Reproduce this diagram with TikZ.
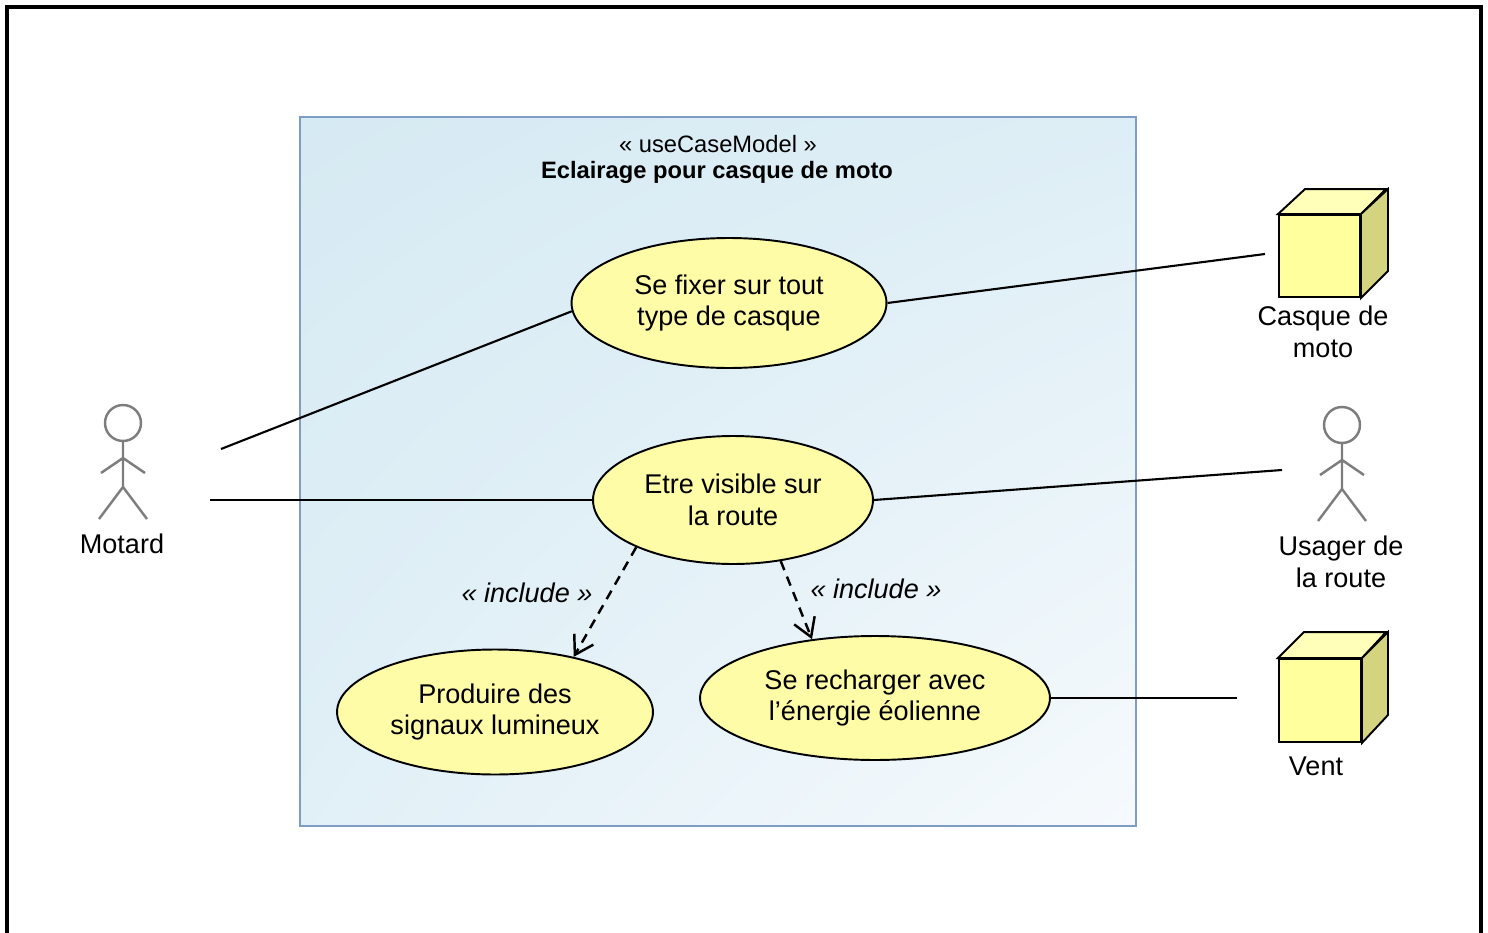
\documentclass[tikz,border=0pt]{standalone}
\usepackage{fontspec}
\setmainfont{Liberation Sans}
\usepackage{tikz}
\usetikzlibrary{shapes.geometric,arrows.meta,shadings}

\definecolor{casjaune}{RGB}{255,252,168}
\definecolor{cubeface}{RGB}{255,255,158}
\definecolor{cubehaut}{RGB}{255,255,185}
\definecolor{cubecote}{RGB}{212,212,128}
\definecolor{bordbleu}{RGB}{127,157,196}
\definecolor{fondbleu}{RGB}{214,234,243}
\definecolor{fondclair}{RGB}{246,250,253}
\definecolor{grisacteur}{RGB}{125,125,125}

\begin{document}
\begin{tikzpicture}[x=0.02cm,y=-0.02cm,
	usecase/.style={ellipse,draw,line width=1.1pt,fill=casjaune,inner sep=0pt,align=center,
		font=\fontsize{15.4}{18.2}\selectfont},
	lien/.style={line width=1.2pt},
	inclut/.style={line width=1.4pt,dash pattern=on 5.5pt off 4pt,
		-{Straight Barb[length=3.6mm,width=4.4mm,line width=1.4pt]}},
	etiquette/.style={align=center,inner sep=0pt,font=\fontsize{15.4}{18.2}\selectfont},
	cubebox/.style={draw,line width=1.1pt,fill=cubeface,inner sep=0pt},
	acteur/.pic={
		\draw[grisacteur,line width=1.4pt] (0,0) circle [radius=0.36cm];
		\draw[grisacteur,line width=1.4pt] (0,18) -- (0,64) (-22,50) -- (0,35) -- (22,50)
			(-24,96) -- (0,64) -- (24,96);
	}
	]
	\useasboundingbox (0,0) rectangle (1488,933);
	\draw[line width=1.8pt] (7,7) rectangle (1481,960);

	% systeme
	\node[draw=bordbleu,line width=1.2pt,minimum width=16.72cm,minimum height=14.18cm,
		upper left=fondbleu,upper right=fondbleu!75!fondclair,lower left=fondbleu!65!fondclair,
		lower right=fondclair] (systeme) at (718,471.5) {};
	\node[etiquette,font=\fontsize{13.5}{16}\selectfont] (stereo) at (718,144) {« useCaseModel »};
	\node[etiquette,font=\fontsize{13.5}{16}\selectfont\bfseries] (titre) at (717,172) {Eclairage pour casque de moto};

	% cas d'utilisation
	\node[usecase,minimum width=6.3cm,minimum height=2.6cm] (fixer) at (729,303) {Se fixer sur tout\\type de casque};
	\node[usecase,minimum width=5.6cm,minimum height=2.56cm] (visible) at (733,500) {Etre visible sur\\la route};
	\node[usecase,minimum width=6.32cm,minimum height=2.5cm] (produire) at (495,712) {Produire des\\signaux lumineux};
	\node[usecase,minimum width=7cm,minimum height=2.48cm] (recharger) at (875,698) {Se recharger avec\\l’énergie éolienne};

	% acteurs
	\pic at (123,423) {acteur};
	\node[etiquette] (motard) at (122,544) {Motard};
	\pic at (1342,425) {acteur};
	\node[etiquette] (usager) at (1341,562) {Usager de\\la route};

	\node[cubebox,minimum width=1.62cm,minimum height=1.64cm] (casque) at (1319.5,256) {};
	\draw[line width=1.1pt,fill=cubehaut] (casque.north west) -- ++(27,-25) -- ++(81,0) -- (casque.north east) -- cycle;
	\draw[line width=1.1pt,fill=cubecote] (casque.north east) -- ++(27,-25) -- ++(0,82) -- (casque.south east) -- cycle;
	\node[etiquette] (casquetxt) at (1323,332) {Casque de\\moto};

	\node[cubebox,minimum width=1.64cm,minimum height=1.66cm] (vent) at (1320,700.5) {};
	\draw[line width=1.1pt,fill=cubehaut] (vent.north west) -- ++(26,-26) -- ++(82,0) -- (vent.north east) -- cycle;
	\draw[line width=1.1pt,fill=cubecote] (vent.north east) -- ++(26,-26) -- ++(0,83) -- (vent.south east) -- cycle;
	\node[etiquette] (venttxt) at (1316,766) {Vent};

	% liens
	\coordinate (motardA) at (221,449);
	\coordinate (motardB) at (210,500);
	\coordinate (casqueA) at (1265,254);
	\coordinate (usagerA) at (1282,470);
	\coordinate (ventA) at (1237,698);
	\draw[lien] (motardA) -- (fixer.183);
	\draw[lien] (motardB) -- (visible.west);
	\draw[lien] (fixer.east) -- (casqueA);
	\draw[lien] (visible.east) -- (usagerA);
	\draw[lien] (recharger.east) -- (ventA);

	\draw[inclut] (visible.206) -- (produire.35);
	\draw[inclut] (visible.308) -- (recharger.137);
	\node[etiquette,font=\fontsize{15.4}{18.2}\selectfont\itshape] (inc1) at (527,593) {« include »};
	\node[etiquette,font=\fontsize{15.4}{18.2}\selectfont\itshape] (inc2) at (876,589) {« include »};
\end{tikzpicture}
\end{document}
